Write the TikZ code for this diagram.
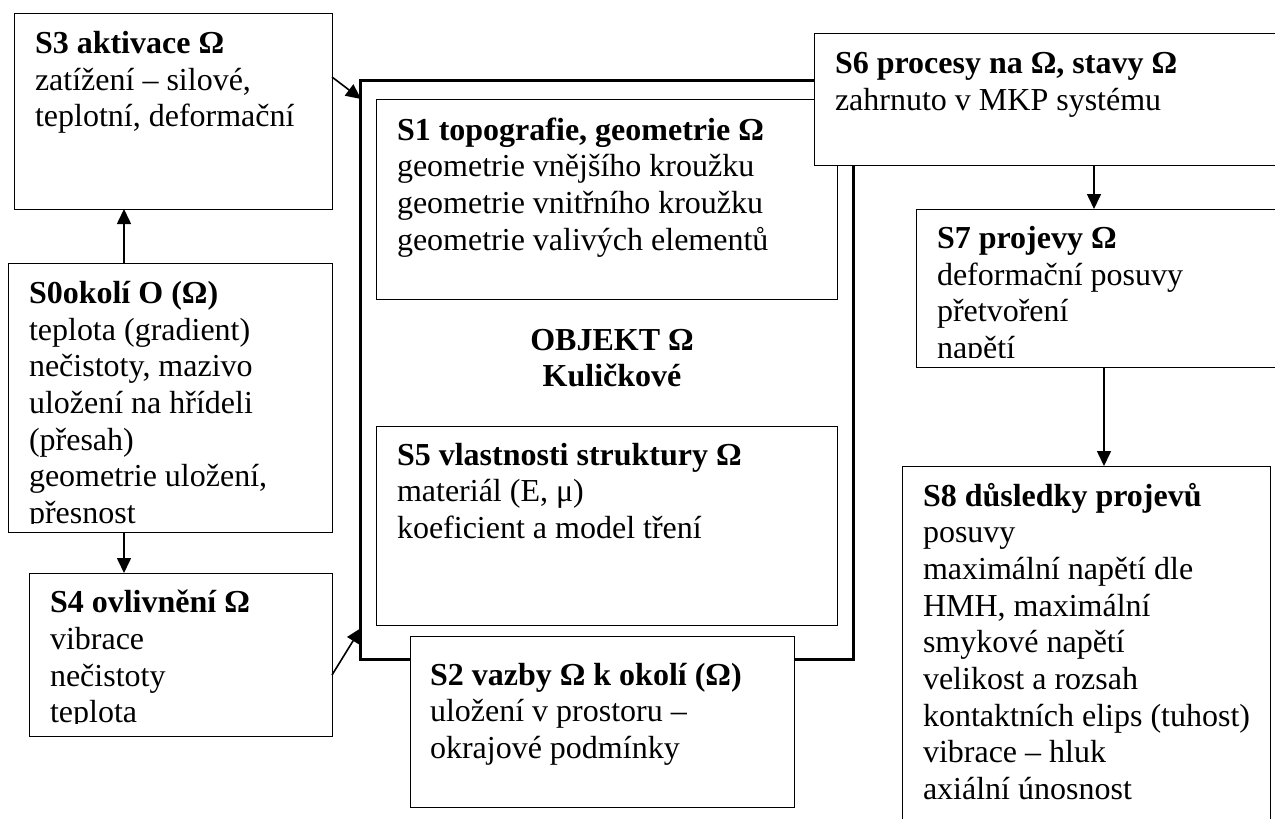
\documentclass[tikz,border=0pt]{standalone}
\usepackage{fontspec}
\setmainfont{Liberation Serif}
\usetikzlibrary{arrows.meta,calc}
\newcommand\mkbox[6][bx]{\node[#1, minimum width={(#5-#3)*1pt}, minimum height={(#6-#4)*1pt}] (#2) at (#3,#4) {};}
\newcommand\mktext[4]{\node[txt] (#1) at (#2,{#3-25.69}) {\strut #4};}
\begin{document}
\begin{tikzpicture}[x=1pt,y=-1pt,
  bx/.style={draw, line width=1pt, fill=white, inner sep=0pt, outer sep=0pt, anchor=north west},
  thickbx/.style={bx, line width=3pt},
  txt/.style={align=left, inner sep=0pt, outer sep=0pt, anchor=north west, font=\fontsize{32}{36.7}\selectfont},
  arr/.style={line width=1.6pt, -{Triangle[length=15pt,width=14pt]}}]
\path[use as bounding box] (0,0) rectangle (1275,819);
\clip (0,0) rectangle (1275,819);

% object frame
\mkbox[thickbx]{obj}{360}{80}{853}{659}
\mkbox{s1}{376}{99}{837}{299}
\mktext{s1t}{397}{140}{\textbf{S1 topografie, geometrie Ω}\\geometrie vnějšího kroužku\\geometrie vnitřního kroužku\\geometrie valivých elementů}
\node[txt, align=center, anchor=north, font=\fontsize{32}{36.7}\selectfont\bfseries] (objt) at (612,{350-25.69}) {\strut OBJEKT Ω\\Kuličkové};
\mkbox{s5}{376}{426}{837}{625}
\mktext{s5t}{397}{465}{\textbf{S5 vlastnosti struktury Ω}\\materiál (E, μ)\\koeficient a model tření}

% S6 and S2 overlapping the frame
\mkbox{s6}{814}{33}{1290}{165}
\mktext{s6t}{835}{73.3}{\textbf{S6 procesy na Ω, stavy Ω}\\zahrnuto v MKP systému}
\mkbox{s2}{410}{636}{794}{807}
\mktext{s2t}{430}{685}{\textbf{S2 vazby Ω k okolí (Ω)}\\uložení v prostoru –\\okrajové podmínky}

% left column
\mkbox{s3}{14}{13}{332}{209}
\mktext{s3t}{35}{53.3}{\textbf{S3 aktivace Ω}\\zatížení – silové,\\teplotní, deformační}
\mkbox{s0}{8}{263}{332}{532}
\begin{scope}
\clip (8,263) rectangle (332,523);
\mktext{s0t}{29}{303.3}{\textbf{S0okolí O (Ω)}\\teplota (gradient)\\nečistoty, mazivo\\uložení na hřídeli\\(přesah)\\geometrie uložení,\\přesnost}
\end{scope}
\mkbox{s4}{29}{573}{332}{736}
\begin{scope}
\clip (29,573) rectangle (332,723);
\mktext{s4t}{50}{612.7}{\textbf{S4 ovlivnění Ω}\\vibrace\\nečistoty\\teplota}
\end{scope}

% right column
\mkbox{s7}{916}{209}{1290}{367}
\begin{scope}
\clip (916,209) rectangle (1290,357);
\mktext{s7t}{937}{248.3}{\textbf{S7 projevy Ω}\\deformační posuvy\\přetvoření\\napětí}
\end{scope}
\mkbox{s8}{902}{466}{1270}{840}
\mktext{s8t}{923}{506}{\textbf{S8 důsledky projevů}\\posuvy\\maximální napětí dle\\HMH, maximální\\smykové napětí\\velikost a rozsah\\kontaktních elips (tuhost)\\vibrace – hluk\\axiální únosnost}

% connectors
\coordinate (ax1) at (124,0);
\coordinate (ax2) at (1094,0);
\coordinate (ax3) at (1104,0);
\draw[arr] (s0.north -| ax1) -- (s3.south -| ax1);
\draw[arr] (s0.south -| ax1) -- (s4.north -| ax1);
\draw[arr] ($(s3.north east)+(0,64)$) -- ($(obj.north west)+(1,19)$);
\draw[arr] ($(s4.north east)+(0,102)$) -- ($(obj.south west)+(1,-31)$);
\draw[arr] (s6.south -| ax2) -- (s7.north -| ax2);
\draw[arr] (s7.south -| ax3) -- (s8.north -| ax3);
\end{tikzpicture}
\end{document}
